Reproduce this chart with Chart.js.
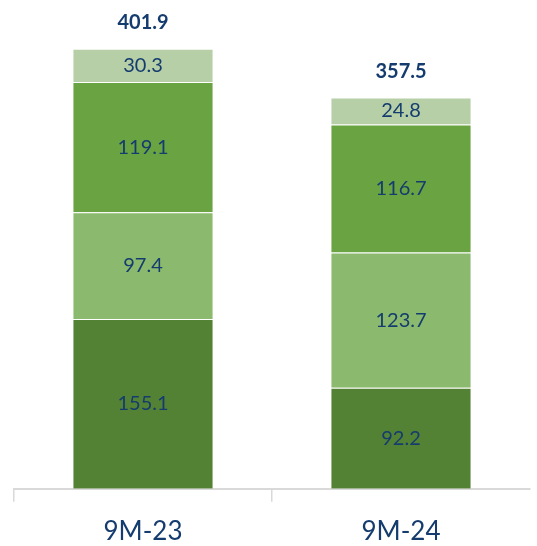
<!DOCTYPE html>
<html lang="en">
<head>
    <meta charset="UTF-8">
    <title>9M-23 vs 9M-24</title>
    <script src="https://cdn.jsdelivr.net/npm/chart.js"></script>
    <style>
        html, body { margin: 0; padding: 0; overflow: hidden; background: #fff; }
        #wrap { width: 537px; height: 561px; }
    </style>
</head>
<body>
    <div id="wrap"><canvas id="stackChart"></canvas></div>
    <script>
        // Data
        var categories = ['9M-23', '9M-24'];
        var segBottom = [155.1, 92.2];
        var segLower = [97.4, 123.7];
        var segUpper = [119.1, 116.7];
        var segTop = [30.3, 24.8];
        var totals = [401.9, 357.5];

        var textColor = '#143c6e';
        var axisColor = '#d9d9d9';

        // draws the values inside each segment and the totals above each bar
        var valueLabels = {
            id: 'valueLabels',
            afterDatasetsDraw: function (chart) {
                var ctx = chart.ctx;
                ctx.save();
                ctx.fillStyle = textColor;
                ctx.textAlign = 'center';
                ctx.textBaseline = 'middle';
                ctx.font = '20px Lato';
                chart.data.datasets.forEach(function (ds, di) {
                    var meta = chart.getDatasetMeta(di);
                    meta.data.forEach(function (bar, i) {
                        var y = (bar.y + bar.base) / 2;
                        ctx.fillText(ds.data[i].toFixed(1), bar.x, y);
                    });
                });
                var topMeta = chart.getDatasetMeta(chart.data.datasets.length - 1);
                ctx.font = 'bold 20px Lato';
                topMeta.data.forEach(function (bar, i) {
                    ctx.fillText(totals[i].toFixed(1), bar.x, bar.y - 26);
                });
                ctx.restore();
            }
        };

        var ctx = document.getElementById('stackChart').getContext('2d');
        var stackChart = new Chart(ctx, {
            type: 'bar',
            data: {
                labels: categories,
                datasets: [
                    { data: segBottom, backgroundColor: '#548235' },
                    { data: segLower, backgroundColor: '#8bba6e' },
                    { data: segUpper, backgroundColor: '#6aa342' },
                    { data: segTop, backgroundColor: '#b6cfa7' }
                ]
            },
            options: {
                responsive: true,
                maintainAspectRatio: false,
                animation: false,
                layout: { padding: { left: 14, right: 7, top: 7, bottom: 0 } },
                datasets: {
                    bar: {
                        barPercentage: 0.547,
                        categoryPercentage: 1,
                        borderWidth: 1,
                        borderColor: 'rgba(255,255,255,0.2)'
                    }
                },
                plugins: {
                    legend: { display: false },
                    tooltip: { enabled: false }
                },
                scales: {
                    x: {
                        stacked: true,
                        border: { display: true, color: axisColor, width: 2 },
                        grid: {
                            offset: true,
                            drawOnChartArea: false,
                            drawTicks: true,
                            tickLength: 13,
                            lineWidth: 1.5,
                            // no tick mark at the far right end
                            color: function (c) { return c.tick ? axisColor : 'rgba(0,0,0,0)'; }
                        },
                        ticks: {
                            color: textColor,
                            padding: 14,
                            font: { family: 'Lato', size: 26 }
                        }
                    },
                    y: {
                        stacked: true,
                        display: false,
                        min: 0,
                        max: 440
                    }
                }
            },
            plugins: [valueLabels]
        });
    </script>
</body>
</html>
